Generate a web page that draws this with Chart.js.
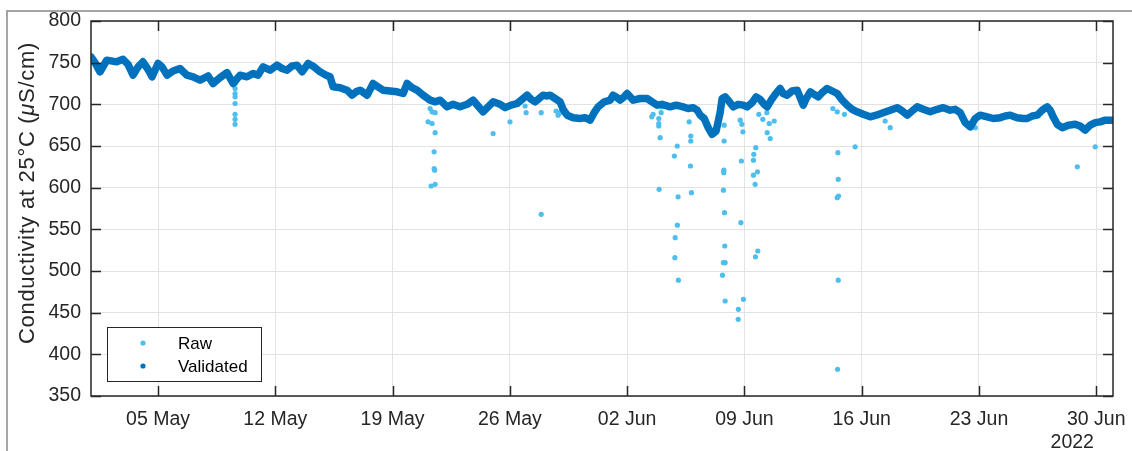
<!DOCTYPE html>
<html><head><meta charset="utf-8">
<script src="https://cdn.jsdelivr.net/npm/chart.js@4/dist/chart.umd.min.js"></script>
<style>
html,body{margin:0;padding:0;background:#fff;}
#wrap{position:relative;width:1132px;height:451px;overflow:hidden;}
#frame{position:absolute;left:6px;top:10px;width:1200px;height:500px;border-top:2px solid #a6a6a6;border-left:2px solid #a6a6a6;}
#c{position:absolute;left:0;top:0;}
</style></head><body>
<div id="wrap"><div id="frame"></div><canvas id="c" width="1132" height="451"></canvas></div>
<script>
// x values are days since 01 May 2022 00:00
const tickDays = [4, 11, 18, 25, 32, 39, 46, 53, 60];
const tickLabels = ['05 May','12 May','19 May','26 May','02 Jun','09 Jun','16 Jun','23 Jun','30 Jun'];
const yearLabel = '2022';
const yTicks = [350,400,450,500,550,600,650,700,750,800];
const yTitleParts = ['Conductivity at 25°C (', 'μ', 'S/cm)'];

const validatedDays = [0.00,0.24,0.54,0.94,1.53,1.91,2.21,2.51,2.81,3.10,3.40,3.64,4.00,4.24,4.54,4.90,5.31,5.73,6.09,6.51,6.99,7.28,7.70,8.12,8.48,8.90,9.31,9.67,9.97,10.27,10.69,11.10,11.40,11.70,12.00,12.30,12.60,12.96,13.31,13.67,14.03,14.27,14.45,14.87,15.28,15.58,15.82,16.06,16.48,16.84,17.13,17.43,17.85,18.27,18.63,18.87,19.16,19.46,19.82,20.24,20.54,20.84,21.25,21.61,22.03,22.45,22.81,23.10,23.40,23.70,24.00,24.42,24.72,25.07,25.43,25.73,26.03,26.27,26.51,26.81,26.99,27.22,27.40,27.70,28.00,28.18,28.42,28.78,29.19,29.49,29.79,30.03,30.27,30.63,30.99,31.16,31.40,31.58,31.82,32.00,32.18,32.36,32.78,33.19,33.49,33.79,34.09,34.57,34.93,35.34,35.64,35.94,36.18,36.36,36.60,36.84,37.07,37.31,37.55,37.67,37.85,38.03,38.33,38.63,38.93,39.16,39.46,39.70,39.94,40.18,40.36,40.60,40.84,41.13,41.31,41.55,41.85,42.15,42.33,42.51,42.69,42.93,43.16,43.40,43.64,43.94,44.24,44.54,44.84,45.13,45.43,45.73,46.09,46.51,46.87,47.28,47.70,48.12,48.42,48.72,49.01,49.31,49.67,50.09,50.51,50.87,51.28,51.58,51.88,52.18,52.48,52.78,53.07,53.49,53.85,54.27,54.57,54.87,55.28,55.64,55.88,56.18,56.48,56.78,57.07,57.25,57.43,57.67,57.97,58.33,58.75,59.04,59.34,59.64,59.94,60.24,60.54,61.00];
const validatedValues = [757,750,739,753,751,754,748,735,745,751,742,733,749,745,735,740,743,735,733,729,734,725,732,738,725,735,733,737,735,745,741,747,743,741,746,747,739,749,745,739,735,733,721,720,717,711,715,717,711,725,721,717,716,715,713,725,720,717,711,705,703,705,697,700,697,700,705,698,691,697,703,700,696,699,701,706,711,706,703,708,711,710,711,707,703,694,687,684,683,684,681,690,697,703,705,711,708,705,709,713,709,705,707,707,703,699,700,697,699,697,695,696,693,687,683,672,664,668,690,707,709,705,697,700,699,697,702,709,706,700,697,705,712,719,713,711,716,717,708,699,707,715,712,709,714,719,716,713,705,699,694,691,688,685,687,690,693,696,692,687,692,697,694,691,694,696,693,694,690,678,673,683,687,685,683,684,686,687,684,683,683,686,687,693,697,693,685,676,672,675,676,674,669,675,678,679,681,681];

const rawDays = [8.60,8.60,8.60,8.60,8.60,8.60,8.60,8.60,
 20.24,20.36,20.54,20.12,20.36,20.54,20.48,20.48,20.51,20.30,20.54,
 24.00,25.01,25.97,25.91,26.87,26.87,27.76,27.88,28.00,
 33.47,33.55,34.07,34.03,33.89,33.89,33.89,33.97,33.91,35.70,35.80,35.80,34.99,34.82,35.78,35.84,35.04,35.00,34.87,34.85,35.06,
 37.79,37.79,37.77,37.77,37.75,37.81,37.83,37.75,37.85,37.69,37.85,38.64,38.63,38.94,38.79,38.82,38.75,38.85,38.91,
 39.86,40.10,39.68,39.56,39.54,39.78,39.54,39.64,39.80,39.66,40.36,40.54,40.48,40.78,40.34,
 44.28,44.54,44.97,44.58,44.60,44.62,44.54,44.60,44.56,45.61,47.40,47.70,52.78,58.87,59.94];
const rawValues = [725,719,713,709,701,688,682,676,
 695,691,690,679,677,666,643,623,621,602,604,
 665,679,690,698,690,568,692,687,690,
 685,688,697,690,683,677,674,660,598,679,662,656,650,638,626,594,589,555,540,516,489,
 675,656,621,618,597,570,530,510,510,495,464,454,442,466,558,632,681,676,667,
 688,682,648,640,633,619,615,604,524,517,666,659,677,680,690,
 695,691,688,642,610,590,588,489,382,649,680,672,672,625,649];

const seriesNames = ['Validated','Raw'];
const colValidated = '#0072BD';
const colRaw = '#4DBEEE';
const axisColor = '#262626';
const FONT = "'Liberation Sans', Arial, sans-serif";

const validatedData = validatedDays.map((d,i)=>({x:d, y:validatedValues[i]}));
const rawData = rawDays.map((d,i)=>({x:d, y:rawValues[i]}));

const decorPlugin = {
  id:'decor',
  afterDraw(chart){
    const ctx = chart.ctx, a = chart.chartArea;
    const xs = chart.scales.x, ys = chart.scales.y;
    ctx.save();
    ctx.strokeStyle = axisColor;
    ctx.lineWidth = 1.5;
    ctx.strokeRect(a.left, a.top, a.right-a.left, a.bottom-a.top);
    ctx.beginPath();
    const tl = 10;
    xs.ticks.forEach(t=>{
      const px = Math.round(xs.getPixelForValue(t.value))+0.5;
      ctx.moveTo(px, a.bottom); ctx.lineTo(px, a.bottom-tl);
      ctx.moveTo(px, a.top); ctx.lineTo(px, a.top+tl);
    });
    ys.ticks.forEach(t=>{
      const py = Math.round(ys.getPixelForValue(t.value))+0.5;
      ctx.moveTo(a.left, py); ctx.lineTo(a.left+tl, py);
      ctx.moveTo(a.right, py); ctx.lineTo(a.right-tl, py);
    });
    ctx.stroke();
    // year label
    ctx.fillStyle = axisColor;
    ctx.font = '19.5px ' + FONT;
    ctx.textAlign = 'center';
    ctx.textBaseline = 'top';
    ctx.fillText(yearLabel, xs.getPixelForValue(tickDays[tickDays.length-1]) - 24, 433);
    // y-axis title (mu in italic, as in TeX rendering)
    const fonts = ['22px ' + FONT, 'italic 22px ' + FONT, '22px ' + FONT];
    ctx.letterSpacing = '0.7px';
    let W = 0; const ws = [];
    yTitleParts.forEach((p,i)=>{ ctx.font = fonts[i]; const w = ctx.measureText(p).width; ws.push(w); W += w; });
    ctx.translate(34, 193);
    ctx.rotate(-Math.PI/2);
    ctx.textAlign = 'left';
    ctx.textBaseline = 'alphabetic';
    let cx = -W/2;
    yTitleParts.forEach((p,i)=>{ ctx.font = fonts[i]; ctx.fillText(p, cx, 0); cx += ws[i]; });
    ctx.setTransform(1,0,0,1,0,0);
    ctx.letterSpacing = '0px';
    // legend
    const lx = 107, ly = 327, lw = 154, lh = 54;
    ctx.fillStyle = '#fff';
    ctx.fillRect(lx, ly, lw, lh);
    ctx.lineWidth = 1;
    ctx.strokeStyle = axisColor;
    ctx.strokeRect(lx+0.5, ly+0.5, lw, lh);
    const entries = [[seriesNames[1], colRaw, 343],[seriesNames[0], colValidated, 366]];
    ctx.font = '17px ' + FONT;
    ctx.textAlign = 'left';
    ctx.textBaseline = 'middle';
    entries.forEach(e=>{
      ctx.fillStyle = e[1];
      ctx.beginPath(); ctx.arc(143, e[2], 2.6, 0, Math.PI*2); ctx.fill();
      ctx.fillStyle = '#000';
      ctx.fillText(e[0], 178, e[2]+1);
    });
    ctx.restore();
  }
};

new Chart(document.getElementById('c'), {
  type:'scatter',
  data:{ datasets:[
    { label: seriesNames[0], data: validatedData, showLine:true, borderColor: colValidated, backgroundColor: colValidated,
      borderWidth: 7.5, pointRadius: 0, tension: 0, borderJoinStyle:'round', borderCapStyle:'round' },
    { label: seriesNames[1], data: rawData, pointRadius: 2.6, pointBorderWidth: 0, backgroundColor: colRaw, borderColor: colRaw }
  ]},
  options:{
    responsive:false, animation:false,
    layout:{ padding:{ left:0, top:21, right:19, bottom:0 } },
    plugins:{ legend:{display:false}, tooltip:{enabled:false} },
    scales:{
      x:{ type:'linear', min:0, max:61,
        afterBuildTicks(s){ s.ticks = tickDays.map(v=>({value:v})); },
        afterFit(s){ s.height = 55; s.paddingLeft = 0; s.paddingRight = 0; },
        grid:{ color:'#e3e3e3', drawTicks:false, lineWidth:1 },
        border:{ display:false },
        ticks:{ autoSkip:false, maxRotation:0, padding:12, color:axisColor, font:{family:FONT, size:19.5},
          callback(v){ const i = tickDays.indexOf(v); return i>=0 ? tickLabels[i] : ''; } }
      },
      y:{ min:350, max:800,
        afterBuildTicks(s){ s.ticks = yTicks.map(v=>({value:v})); },
        afterFit(s){ s.width = 91; s.paddingTop = 0; s.paddingBottom = 0; },
        grid:{ color:'#e3e3e3', drawTicks:false, lineWidth:1 },
        border:{ display:false },
        ticks:{ padding:10, color:axisColor, font:{family:FONT, size:19.5} }
      }
    }
  },
  plugins:[decorPlugin]
});
</script>
</body></html>
